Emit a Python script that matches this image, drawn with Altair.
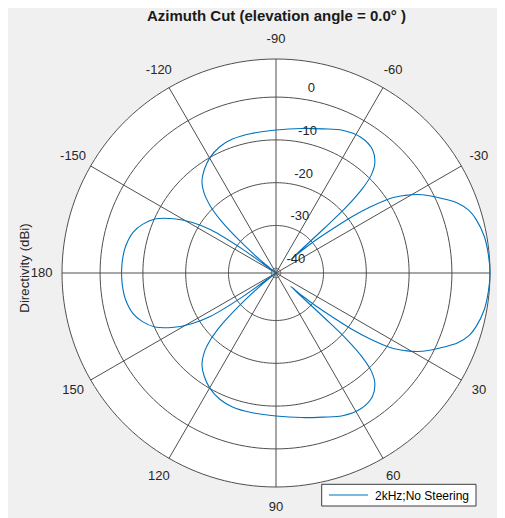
import math
import altair as alt
import pandas as pd

# ---------------- data ----------------
TITLE = "Azimuth Cut (elevation angle = 0.0° )"
Y_TITLE = "Directivity (dBi)"
SERIES = "2kHz;No Steering"

azimuth_deg = [
    -180, -175, -170, -164, -160, -156, -152, -149, -146.5, -144.5, -142.5,
    -140.5, -138.3, -136.5, -134.5, -132, -129, -125, -120, -114, -108, -100,
    -90, -80, -72, -65, -58, -52, -48, -45.8, -44.3, -43.2, -42.8, -42.3, -41,
    -39.5, -38, -36.5, -35, -33, -31, -29, -27, -24, -21, -18, -15, -10, -5,
    0, 5, 10, 15, 18, 21, 24, 27, 29, 31, 33, 35, 36.5, 38, 39.5, 41, 42.3,
    42.8, 43.2, 44.3, 45.8, 48, 52, 58, 65, 72, 80, 90, 100, 108, 114, 120,
    125, 129, 132, 134.5, 136.5, 138.3, 140.5, 142.5, 144.5, 146.5, 149, 152,
    156, 160, 164, 170, 175, 180,
]
directivity_dbi = [
    -5.0, -5.1, -5.4, -6.4, -7.9, -10.1, -14.1, -18.1, -22.8, -31.7, -50.0,
    -36.4, -29.4, -23.5, -19.3, -16.0, -13.6, -11.8, -10.1, -8.8, -8.2, -8.0,
    -7.7, -6.8, -5.7, -4.3, -3.7, -4.5, -6.6, -9.2, -12.9, -18.3, -25.8, -36.4,
    -32.9, -28.9, -24.7, -18.8, -14.1, -8.9, -5.9, -3.3, -1.2, 1.6, 4.4, 6.3,
    7.3, 8.3, 8.7,
    8.9, 8.7, 8.3, 7.3, 6.3, 4.4, 1.6, -1.2, -3.3, -5.9, -8.9, -14.1, -18.8,
    -24.7, -28.9, -32.9, -36.4, -25.8, -18.3, -12.9, -9.2, -6.6, -4.5, -3.7,
    -4.3, -5.7, -6.8, -7.7, -8.0, -8.2, -8.8, -10.1, -11.8, -13.6, -16.0,
    -19.3, -23.5, -29.4, -36.4, -50.0, -31.7, -22.8, -18.1, -14.1, -10.1,
    -7.9, -6.4, -5.4, -5.1, -5.0,
]

mag_limits = [-41.1, 8.9]
ring_db = [-40, -30, -20, -10, 0]
ring_labels = ["-40", "-30", "-20", "-10", "0"]
spoke_deg = [0, 30, 60, 90, 120, 150]
angle_tick_deg = [-150, -120, -90, -60, -30, 30, 60, 90, 120, 150, 180]
angle_tick_labels = ["-150", "-120", "-90", "-60", "-30", "30", "60", "90", "120", "150", "180"]

# ---------------- geometry helpers ----------------
R_PX = 214.0
W, H = 489, 510
CX, CY = 268.0, 265.0  # centre in plot-area pixels

def to_u(db):
    lo, hi = mag_limits
    return min(1.0, max(0.0, (db - lo) / (hi - lo)))

def polar_xy(u, deg):
    t = math.radians(deg)
    return u * math.cos(t), -u * math.sin(t)

xs = alt.Scale(domain=[-CX / R_PX, (W - CX) / R_PX], nice=False, zero=False)
ys = alt.Scale(domain=[(CY - H) / R_PX, CY / R_PX], nice=False, zero=False)
X = lambda f="x": alt.X(f"{f}:Q", scale=xs, axis=None)
Y = lambda f="y": alt.Y(f"{f}:Q", scale=ys, axis=None)

GRID = "#4f4f4f"
FONT = "Liberation Sans"

# white disk
disk = pd.DataFrame(
    [{"x": math.cos(math.radians(t)), "y": math.sin(math.radians(t)),
      "y2": -math.sin(math.radians(t))} for t in range(0, 181)]
)
disk_layer = alt.Chart(disk).mark_area(color="white", opacity=1).encode(
    x=X(), y=Y(), y2="y2:Q")

# rings
rows = []
for db in ring_db + [mag_limits[1]]:
    u = to_u(db)
    for k in range(0, 361, 2):
        x, y = polar_xy(u, k)
        rows.append({"ring": str(db), "k": k, "x": x, "y": y})
ring_layer = alt.Chart(pd.DataFrame(rows)).mark_line(
    color=GRID, strokeWidth=1).encode(x=X(), y=Y(), detail="ring:N", order="k:Q")

# spokes
rows = []
for a in spoke_deg:
    for j, aa in enumerate([a, a + 180]):
        x, y = polar_xy(1.0, aa)
        rows.append({"spoke": a, "k": j, "x": x, "y": y})
spoke_layer = alt.Chart(pd.DataFrame(rows)).mark_line(
    color=GRID, strokeWidth=1).encode(x=X(), y=Y(), detail="spoke:N", order="k:Q")

# angle labels
rows = []
for a, lab in zip(angle_tick_deg, angle_tick_labels):
    x, y = polar_xy(1.095, a)
    rows.append({"x": x, "y": y, "label": lab})
angle_text = alt.Chart(pd.DataFrame(rows)).mark_text(
    font=FONT, fontSize=13, color="#262626", align="center", baseline="middle"
).encode(x=X(), y=Y(), text="label:N")

# magnitude labels
rows = []
for db, lab in zip(ring_db, ring_labels):
    rpx = to_u(db) * R_PX
    rows.append({"x": (19.5 + 0.09 * rpx) / R_PX, "y": (rpx + 9) / R_PX, "label": lab})
mag_text = alt.Chart(pd.DataFrame(rows)).mark_text(
    font=FONT, fontSize=13, color="#262626", align="center", baseline="middle"
).encode(x=X(), y=Y(), text="label:N")

# pattern curve
rows = []
for i, (a, d) in enumerate(zip(azimuth_deg, directivity_dbi)):
    x, y = polar_xy(to_u(d), a)
    rows.append({"i": i, "x": x, "y": y, "az": a, "dbi": d})
curve = alt.Chart(pd.DataFrame(rows)).mark_line(
    color="#0072BD", strokeWidth=1.1, interpolate="catmull-rom"
).encode(x=X(), y=Y(), order="i:Q")

one = pd.DataFrame({"a": [0]})
title_layer = alt.Chart(one).mark_text(
    font=FONT, fontSize=15, fontWeight="bold", color="#1a1a1a",
    align="center", baseline="alphabetic", text=TITLE
).encode(x=alt.value(268.5), y=alt.value(12.5))
ytitle_layer = alt.Chart(one).mark_text(
    font=FONT, fontSize=13.3, color="#262626", angle=270,
    align="center", baseline="middle", text=Y_TITLE
).encode(x=alt.value(17), y=alt.value(260))

legend_box = alt.Chart(one).mark_rect(
    fill="white", stroke="#3d3d3d", strokeWidth=1
).encode(x=alt.value(313.7), x2=alt.value(468), y=alt.value(476.3), y2=alt.value(498))
legend_line = alt.Chart(one).mark_rule(color="#0072BD", strokeWidth=1.1).encode(
    x=alt.value(321), x2=alt.value(360), y=alt.value(487))
legend_text = alt.Chart(one).mark_text(
    font=FONT, fontSize=12, color="#000000", align="left", baseline="middle", text=SERIES
).encode(x=alt.value(367), y=alt.value(487.5))

chart = alt.layer(
    disk_layer, ring_layer, spoke_layer, curve, angle_text, mag_text,
    title_layer, ytitle_layer, legend_box, legend_line, legend_text,
).properties(
    width=W, height=H,
    autosize=alt.AutoSizeParams(type="none"),
    padding=0,
    background="#f0f0f0",
).configure_view(stroke=None)

chart.save("out.html", embed_options={"renderer": "svg", "actions": False})
